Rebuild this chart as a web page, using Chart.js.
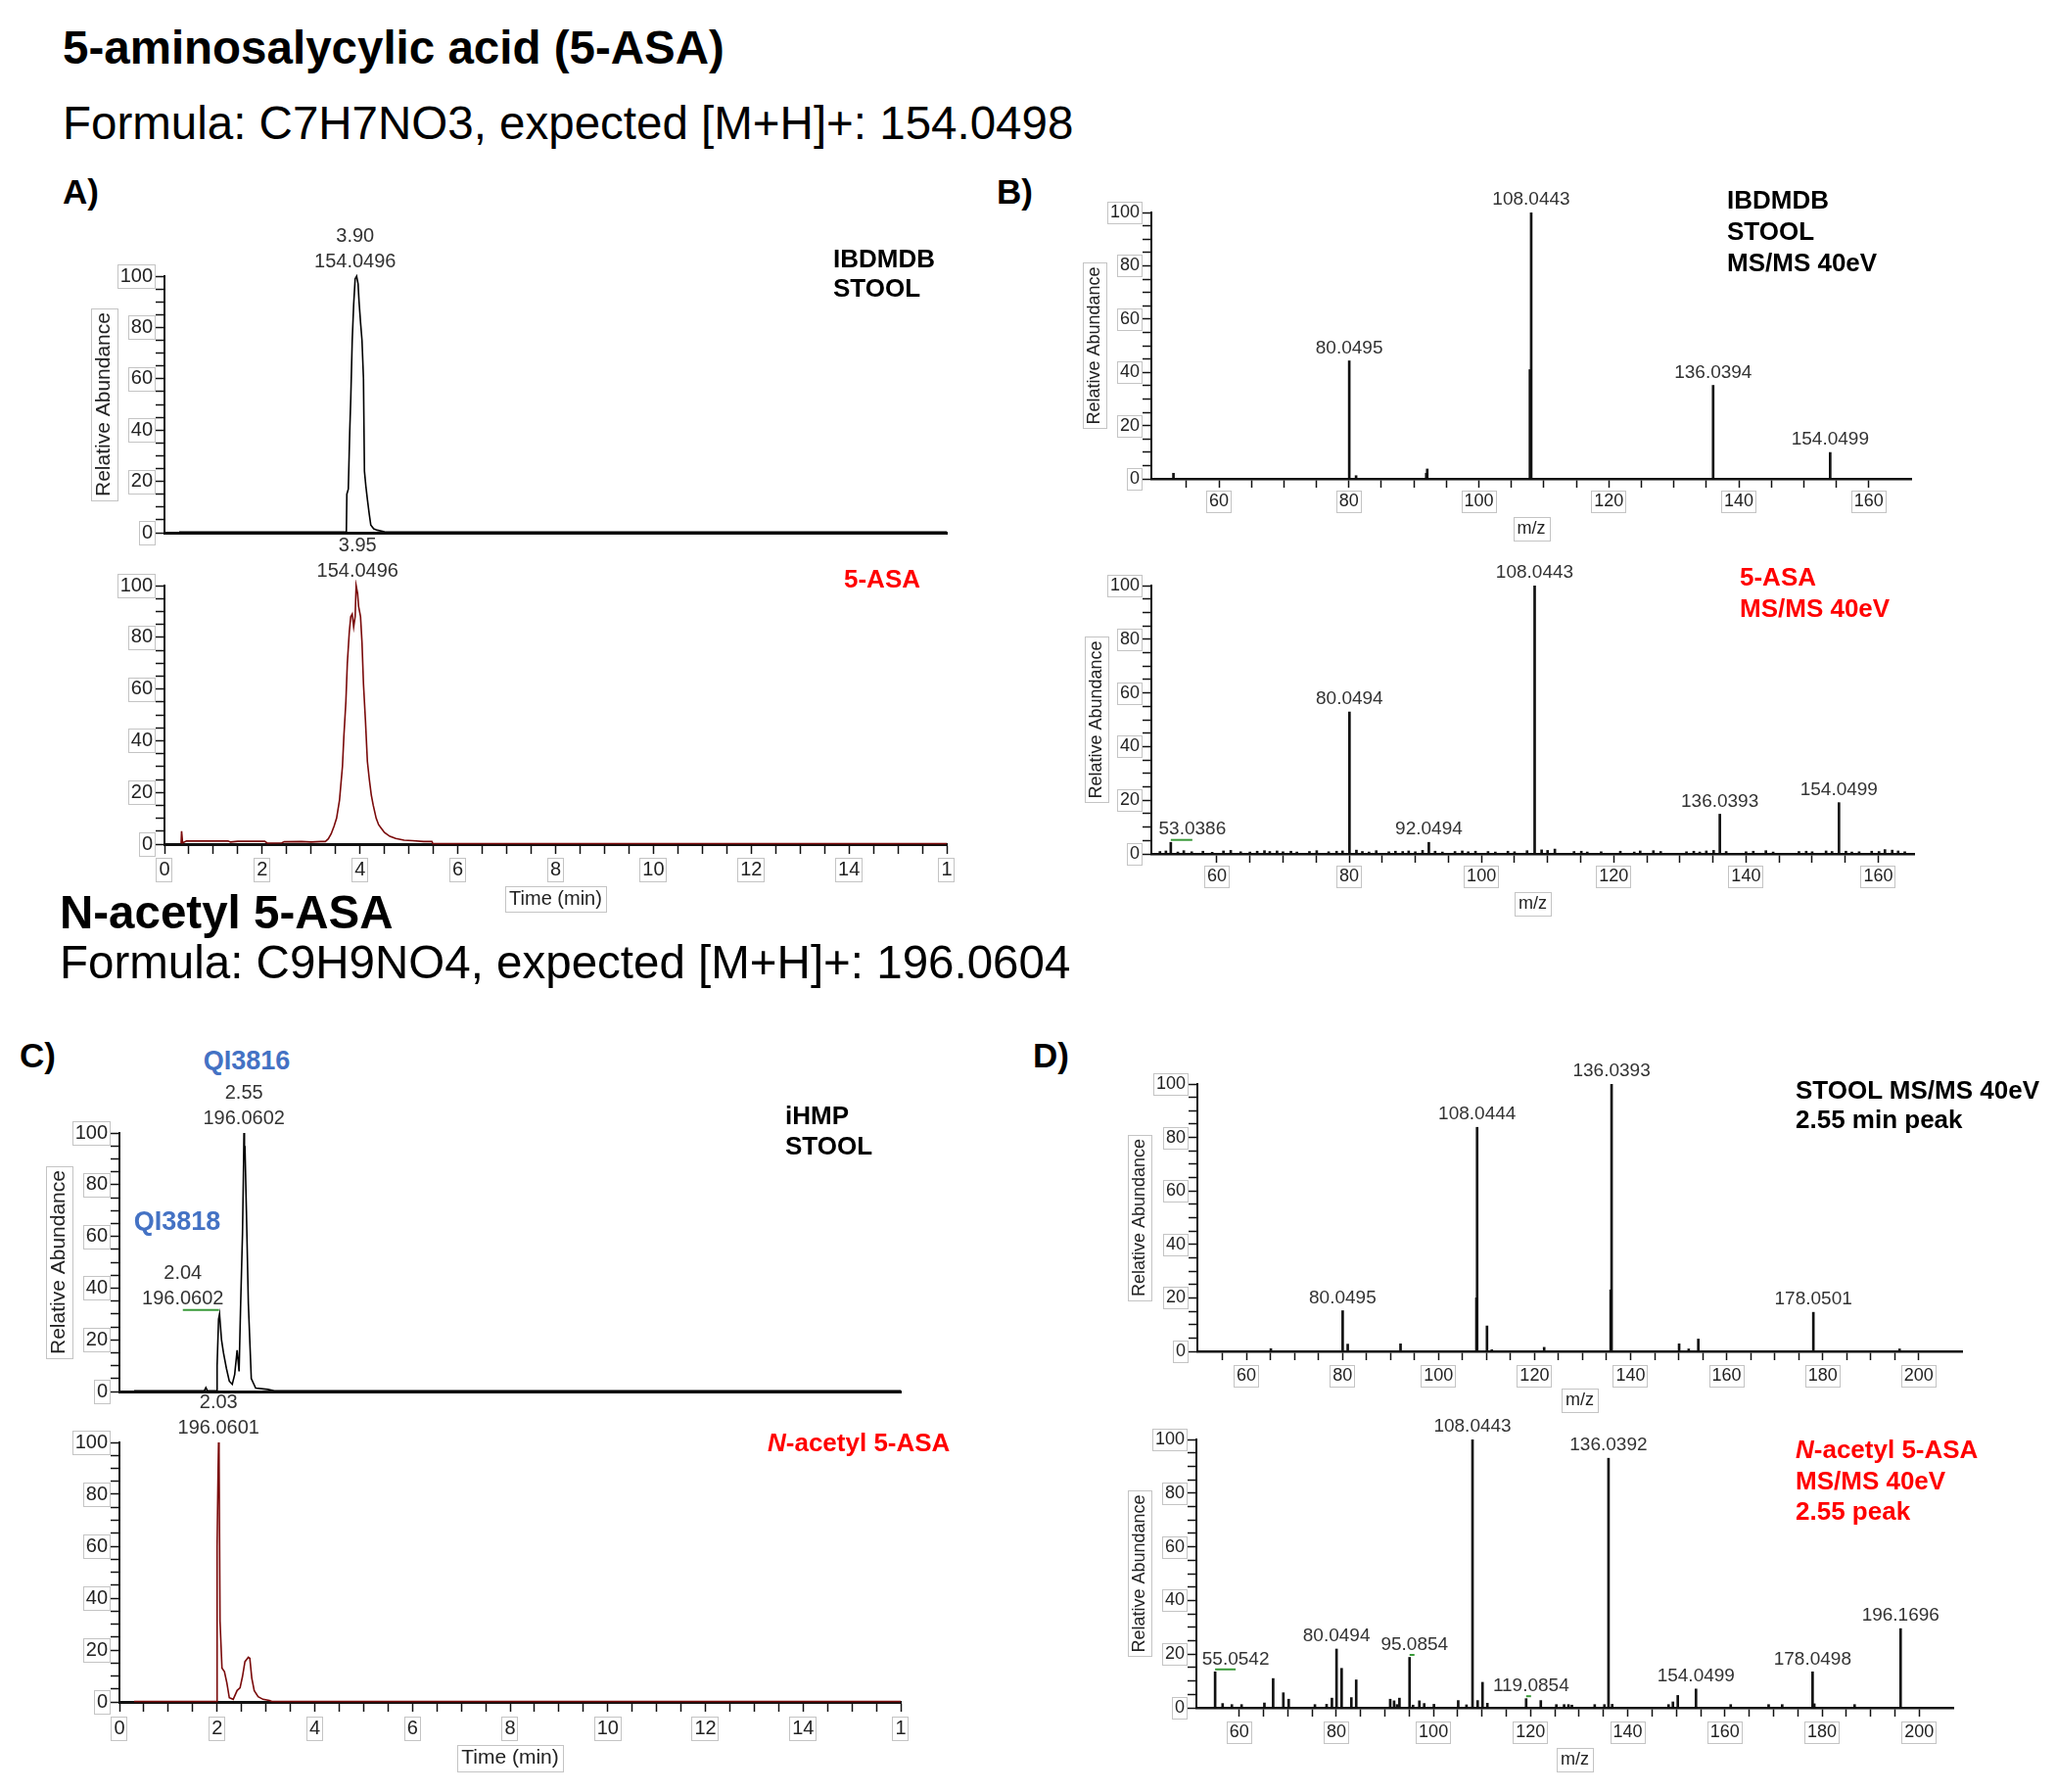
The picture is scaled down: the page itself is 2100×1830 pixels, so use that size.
<!DOCTYPE html>
<html>
<head>
<meta charset="utf-8">
<title>5-ASA and N-acetyl 5-ASA</title>
<script src="https://cdn.jsdelivr.net/npm/chart.js@4.4.1/dist/chart.umd.min.js"></script>
<style>
  html, body { margin: 0; padding: 0; background: #fff; }
  #page { position: relative; width: 2100px; height: 1830px; overflow: hidden; font-family: "Liberation Sans", Arial, sans-serif; }
  #page canvas { position: absolute; }
  .t { position: absolute; white-space: nowrap; line-height: 1; color: #000; }
</style>
</head>
<body>
<div id="page"></div>
<script>
// ---- A) 5-ASA extracted ion chromatograms, m/z 154.0498 ----
const aTopTime  = [0.30, 3.72, 3.73, 3.76, 3.79, 3.81, 3.84, 3.87, 3.90, 3.93, 3.96, 3.98, 4.01, 4.04, 4.07, 4.09, 4.12, 4.15, 4.19, 4.22, 4.28, 4.35, 4.50, 16.0];
const aTopAbund = [0.3, 0.3, 15, 17, 40, 52, 75, 89, 99, 100, 97, 90, 82, 75, 60, 24, 18, 13, 7, 3, 1.5, 1, 0.4, 0.3];
const aTopPeakTime  = [3.90];
const aTopPeakMz    = [154.0496];
const aTopPeakAbund = [100];

const aBotTime  = [0.34, 0.35, 0.37, 0.45, 1.30, 1.35, 1.50, 2.05, 2.10, 2.40, 2.45, 2.80, 3.00, 3.20, 3.29, 3.35, 3.41, 3.47, 3.52, 3.58, 3.64, 3.67, 3.71, 3.74, 3.78, 3.81, 3.84, 3.87, 3.90, 3.92, 3.95, 3.97, 4.01, 4.04, 4.07, 4.11, 4.15, 4.19, 4.23, 4.27, 4.33, 4.38, 4.44, 4.50, 4.61, 4.73, 4.90, 5.07, 5.30, 5.47, 5.49, 16.0];
const aBotAbund = [0.3, 5, 0.5, 1.2, 1.2, 0.8, 1.1, 1.1, 0.4, 0.5, 0.9, 1.0, 0.8, 1.0, 1.0, 2, 4, 7, 10, 17, 30, 42, 55, 70, 82, 88, 89, 84, 88, 100, 97, 92, 88, 78, 62, 48, 32, 25, 19, 15, 10, 7.5, 6, 4.5, 3, 2.2, 1.5, 1.3, 1.0, 1.0, 0.2, 0.2];
const aBotPeakTime  = [3.95];
const aBotPeakMz    = [154.0496];
const aBotPeakAbund = [100];

// ---- B) 5-ASA MS/MS 40 eV ----
const bTopPeakMz    = [80.0495, 108.0443, 136.0394, 154.0499];
const bTopPeakAbund = [44.3, 100, 35.1, 9.9];
const bTopMinorMz    = [53.0, 81.1, 91.9, 92.05, 107.85];
const bTopMinorAbund = [2.1, 1.2, 2.1, 3.7, 41];

const bBotPeakMz    = [53.0386, 80.0494, 92.0494, 108.0443, 136.0393, 154.0499];
const bBotPeakAbund = [4.3, 52.9, 4.3, 100, 14.8, 19.1];
const bBotMinorMz = [
  51.4, 52.3, 54.1, 55.0, 56.2, 57.9, 59.3, 61.0, 62.1, 63.6,
  65.0, 66.1, 67.2, 68.0, 69.1, 70.0, 71.2, 72.1, 74.0, 75.1,
  76.9, 78.1, 79.0, 81.1, 82.0, 83.0, 84.1, 86.0, 87.0, 88.1,
  89.0, 90.0, 91.1, 93.0, 94.1, 96.0, 97.1, 98.0, 99.1, 101.0,
  102.1, 104.0, 105.0, 106.9, 109.1, 110.0, 111.1, 114.0, 115.1, 116.0,
  118.1, 121.0, 123.1, 124.0, 126.0, 127.1, 131.0, 132.1, 133.0, 134.0,
  135.1, 137.0, 140.0, 141.1, 143.0, 144.1, 148.0, 149.1, 150.0, 152.1,
  153.0, 155.1, 156.0, 157.1, 159.0, 160.1, 161.0, 162.1, 163.0, 164.0];
const bBotMinorAbund = [
  0.9, 1.1, 0.7, 1.2, 0.8, 1.0, 0.6, 1.1, 1.3, 0.8,
  0.7, 1.0, 1.2, 0.9, 1.1, 0.8, 1.0, 0.7, 0.9, 1.2,
  0.8, 1.0, 1.1, 1.4, 0.9, 0.7, 1.2, 0.8, 1.0, 0.9,
  1.1, 0.8, 1.3, 1.0, 0.7, 0.9, 1.1, 0.8, 1.0, 0.9,
  0.7, 1.0, 0.8, 1.2, 1.5, 1.3, 1.8, 0.9, 1.0, 0.7,
  0.8, 1.0, 0.7, 1.1, 1.2, 0.9, 0.8, 1.0, 0.7, 1.1,
  1.3, 0.9, 0.8, 1.0, 1.2, 0.7, 0.9, 1.0, 0.8, 1.1,
  0.9, 1.0, 0.7, 0.8, 1.0, 0.9, 1.6, 1.4, 1.1, 0.8];

// ---- C) N-acetyl 5-ASA extracted ion chromatograms, m/z 196.0604 ----
const cTopTime  = [0.30, 1.74, 1.77, 1.80, 1.99, 2.00, 2.03, 2.05, 2.09, 2.13, 2.19, 2.25, 2.31, 2.36, 2.41, 2.45, 2.48, 2.52, 2.54, 2.55, 2.56, 2.57, 2.60, 2.64, 2.70, 2.79, 3.04, 3.17, 16.0];
const cTopAbund = [0.3, 0.3, 1.5, 0.3, 0.3, 10, 28, 30, 20, 15, 9, 4, 2.8, 6.6, 16, 7.8, 32, 61, 85, 100, 90, 95, 70, 34, 5, 1.3, 0.8, 0.3, 0.3];
const cTopPeakTime  = [2.04, 2.55];
const cTopPeakMz    = [196.0602, 196.0602];
const cTopPeakAbund = [30, 100];

const cBotTime  = [0.30, 1.99, 2.00, 2.02, 2.03, 2.04, 2.06, 2.10, 2.15, 2.20, 2.25, 2.33, 2.41, 2.47, 2.52, 2.57, 2.64, 2.67, 2.71, 2.76, 2.84, 2.94, 3.07, 3.12, 16.0];
const cBotAbund = [0.2, 0.2, 60, 89, 100, 96, 31, 13, 11.7, 7.3, 1.6, 1, 4.4, 5.4, 9.8, 15.5, 17.2, 16.8, 9.2, 4.4, 2, 1, 0.6, 0.2, 0.2];
const cBotPeakTime  = [2.03];
const cBotPeakMz    = [196.0601];
const cBotPeakAbund = [100];

// ---- D) N-acetyl 5-ASA MS/MS 40 eV ----
const dTopPeakMz    = [80.0495, 108.0444, 136.0393, 178.0501];
const dTopPeakAbund = [15.2, 83.8, 100, 14.6];
const dTopMinorMz    = [65.1, 81.1, 92.1, 107.9, 110.1, 111.1, 122.0, 135.85, 150.1, 152.1, 154.1, 196.0];
const dTopMinorAbund = [1.0, 2.7, 2.8, 20, 9.5, 0.6, 1.5, 23, 2.8, 0.9, 4.6, 0.9];

const dBotPeakMz    = [55.0542, 80.0494, 95.0854, 108.0443, 119.0854, 136.0392, 154.0499, 178.0498, 196.1696];
const dBotPeakAbund = [13.4, 21.9, 18.8, 100, 3.4, 93, 7.0, 13.4, 29.5];
const dBotMinorMz = [56.6, 58.5, 60.5, 65.2, 67.0, 69.1, 70.2, 75.6, 78.0, 79.1,
  81.1, 83.1, 84.1, 91.1, 91.9, 92.5, 93.0, 95.8, 97.1, 98.1,
  100.1, 105.1, 106.8, 109.1, 110.1, 111.1, 122.1, 125.3, 126.9, 127.8,
  128.5, 133.2, 135.2, 136.8, 148.4, 149.3, 150.3, 161.2, 169.0, 171.8,
  178.4, 186.7];
const dBotMinorAbund = [1.6, 1.2, 1.2, 1.8, 10.9, 5.6, 3.2, 1.2, 1.3, 3.6,
  14.7, 3.8, 10.4, 3.2, 2.6, 1.2, 3.6, 1.0, 2.6, 1.6,
  1.3, 2.7, 1.1, 2.7, 9.5, 1.7, 2.7, 1.2, 1.2, 1.2,
  1.0, 1.2, 1.2, 1.3, 1.2, 2.2, 4.6, 1.2, 1.2, 1.2,
  1.5, 1.2];

// axis ticks
const yTickValues = [0, 20, 40, 60, 80, 100];

const FONT = '"Liberation Sans", Arial, Helvetica, sans-serif';
Chart.defaults.font.family = FONT;
Chart.defaults.color = '#222';

const page = document.getElementById('page');
const onStep = (v, s) => Math.abs(v / s - Math.round(v / s)) < 1e-6;

// peak annotations (retention time / m/z) drawn from the data through the scales
const peakLabelPlugin = {
  id: 'peakLabels',
  afterDatasetsDraw(chart, args, opts) {
    const items = opts.items || [];
    if (!items.length) return;
    const ctx = chart.ctx, xs = chart.scales.x, ys = chart.scales.y;
    ctx.save();
    ctx.font = opts.size + 'px ' + FONT;
    ctx.textAlign = 'center';
    ctx.textBaseline = 'middle';
    items.forEach((it, i) => {
      const px = xs.getPixelForValue(it.x), py = ys.getPixelForValue(it.y);
      const dx = (opts.shift || {})[i] || 0;
      ctx.fillStyle = '#333';
      it.lines.forEach((line, k) => {
        const up = it.lines.length - 1 - k;
        ctx.fillText(line, px + dx, py - opts.gap - up * opts.lineGap);
      });
      if (dx) {
        const ly = py - opts.gap + opts.size / 2 + 1;
        ctx.strokeStyle = '#3a9a3a';
        ctx.lineWidth = 2;
        ctx.beginPath();
        ctx.moveTo(px, ly);
        ctx.lineTo(px + dx, ly);
        ctx.stroke();
      }
    });
    ctx.restore();
  }
};

// thin grey frames round tick labels and axis titles, like the instrument software
const boxPlugin = {
  id: 'labelBoxes',
  afterDraw(chart) {
    const ctx = chart.ctx;
    ctx.save();
    ctx.strokeStyle = '#c4c4c4';
    ctx.lineWidth = 1;
    ['x', 'y'].forEach(id => {
      const sc = chart.scales[id];
      if (sc.options.ticks.display) {
        sc.getLabelItems().forEach(it => {
          if (!it.label) return;
          ctx.font = it.font.string;
          const w = ctx.measureText(it.label).width, h = it.font.size;
          const tx = it.options.translation[0], ty = it.options.translation[1];
          const cy = ty + (it.textOffset || 0);
          const al = it.options.textAlign;
          const x0 = al === 'right' ? tx - w : (al === 'center' ? tx - w / 2 : tx);
          ctx.strokeRect(Math.round(x0 - 3) + 0.5, Math.round(cy - h / 2 - 2) + 0.5, Math.round(w + 5), Math.round(h + 4));
        });
      }
      const t = sc.options.title;
      if (t.display) {
        const size = t.font.size;
        ctx.font = size + 'px ' + FONT;
        const w = ctx.measureText(t.text).width, lh = size * 1.2;
        if (id === 'x') {
          const cx = (sc.left + sc.right) / 2, cy = sc.bottom - lh / 2;
          ctx.strokeRect(Math.round(cx - w / 2 - 4) + 0.5, Math.round(cy - size / 2 - 3) + 0.5, Math.round(w + 8), Math.round(size + 6));
        } else {
          const cx = sc.left + lh / 2, cy = (sc.top + sc.bottom) / 2;
          ctx.strokeRect(Math.round(cx - size / 2 - 3) + 0.5, Math.round(cy - w / 2 - 4) + 0.5, Math.round(size + 6), Math.round(w + 8));
        }
      }
    });
    ctx.restore();
  }
};

function yAxis(p) {
  return {
    min: 0, max: 100,
    border: { display: true, color: '#111', width: 2 },
    grid: { drawOnChartArea: false, drawTicks: true, tickLength: 9, tickWidth: 1.5, tickColor: '#111' },
    ticks: { stepSize: 5, autoSkip: false, padding: 3, font: { size: p.yTick }, color: '#222',
             callback: v => yTickValues.includes(v) ? String(v) : '' },
    title: { display: !!p.yTitle, text: 'Relative Abundance', font: { size: p.yTitle || 18 }, padding: 0, color: '#222' },
    afterFit: s => { s.width = p.yW; }
  };
}

function xAxis(p) {
  const ax = {
    type: 'linear', min: p.xMin, max: p.xMax, offset: false,
    border: { display: true, color: '#111', width: p.xBorder },
    afterFit: s => { s.height = p.xH; }
  };
  if (!p.xTicks) {
    ax.grid = { display: false };
    ax.ticks = { display: false };
    ax.title = { display: false };
    return ax;
  }
  ax.grid = { drawOnChartArea: false, drawTicks: true, offset: false, tickLength: p.tickLen, tickWidth: 1.5,
              tickColor: c => (c.tick && onStep(c.tick.value, p.minorStep)) ? '#111' : 'rgba(0,0,0,0)' };
  ax.ticks = { stepSize: p.minorStep, autoSkip: false, maxRotation: 0, padding: p.tickPad,
               font: { size: p.xTick }, color: '#222',
               callback: v => {
                 if (!onStep(v, p.majorStep)) return '';
                 return p.clipLast && v === p.xMax ? '1' : String(Math.round(v));
               } };
  ax.title = { display: true, text: p.xTitle, font: { size: p.xTitleSize }, padding: 0, color: '#222' };
  return ax;
}

function panel(p, type, datasets, labels) {
  const L = p.area[0], T = p.area[1], R = p.area[2], B = p.area[3];
  const padL = 8, padR = 40, padB = 14, padT = p.padTop;
  const cx = L - p.yW - padL, cy = T - padT;
  const cw = R + padR - cx, ch = B + p.xH + padB - cy;
  const cv = document.createElement('canvas');
  cv.width = cw; cv.height = ch;
  cv.style.left = cx + 'px'; cv.style.top = cy + 'px';
  cv.style.width = cw + 'px'; cv.style.height = ch + 'px';
  page.appendChild(cv);
  new Chart(cv, {
    type: type,
    data: { datasets: datasets },
    plugins: [peakLabelPlugin, boxPlugin],
    options: {
      responsive: false, animation: false, devicePixelRatio: 1,
      layout: { padding: { left: padL, right: padR, top: padT, bottom: padB } },
      plugins: { legend: { display: false }, tooltip: { enabled: false }, peakLabels: labels },
      scales: { x: xAxis(p), y: yAxis(p) }
    }
  });
}

function chrom(p, times, abund, color, pkTime, pkMz, pkAbund, shift) {
  const ds = [{ data: times.map((t, i) => ({ x: t, y: abund[i] })), borderColor: color, borderWidth: 1.6,
                pointRadius: 0, tension: 0, fill: false, clip: 6 }];
  const items = pkTime.map((t, i) => ({ x: t, y: pkAbund[i], lines: [t.toFixed(2), pkMz[i].toFixed(4)] }));
  panel(Object.assign({ xMin: 0, xMax: 16, xBorder: 3, minorStep: 0.5, majorStep: 2, clipLast: true,
                        yTick: 20, xTick: 20, tickLen: 10, xTitle: 'Time (min)' }, p),
        'line', ds, { items: items, size: 20, gap: 15, lineGap: 26, shift: shift });
}

function spec(p, pkMz, pkAbund, mnMz, mnAbund, shift) {
  const ds = [
    { data: pkMz.map((m, i) => ({ x: m, y: pkAbund[i] })), backgroundColor: '#111', borderWidth: 0, barThickness: 2, grouped: false },
    { data: mnMz.map((m, i) => ({ x: m, y: mnAbund[i] })), backgroundColor: '#111', borderWidth: 0, barThickness: 2, grouped: false }
  ];
  const items = pkMz.map((m, i) => ({ x: m, y: pkAbund[i], lines: [m.toFixed(4)] }));
  panel(Object.assign({ xBorder: 2.5, xTicks: true, minorStep: 5, majorStep: 20, clipLast: false,
                        yTick: 18, xTick: 18, tickLen: 9, xTitle: 'm/z', xTitleSize: 18, yTitle: 18, padTop: 34 }, p),
        'bar', ds, { items: items, size: 19, gap: 13, lineGap: 0, shift: shift });
}

// A
chrom({ area: [168, 282, 967, 544], yW: 74, xH: 4, padTop: 64, yTitle: 21, xTicks: false },
      aTopTime, aTopAbund, '#000', aTopPeakTime, aTopPeakMz, aTopPeakAbund, {});
chrom({ area: [168, 598, 967, 862], yW: 60, xH: 68, padTop: 64, xTicks: true, tickPad: 4, xTitleSize: 20 },
      aBotTime, aBotAbund, '#7a0a0a', aBotPeakTime, aBotPeakMz, aBotPeakAbund, {});
// B
spec({ area: [1176, 217, 1952, 489], yW: 69, xH: 62, xMin: 49.6, xMax: 166.5, tickPad: 3 },
     bTopPeakMz, bTopPeakAbund, bTopMinorMz, bTopMinorAbund, {});
spec({ area: [1176, 598, 1955, 872], yW: 67, xH: 62, xMin: 50.1, xMax: 165.4, tickPad: 3 },
     bBotPeakMz, bBotPeakAbund, bBotMinorMz, bBotMinorAbund, { 0: 22 });
// C
chrom({ area: [122, 1157, 920, 1421], yW: 74, xH: 4, padTop: 56, yTitle: 21, xTicks: false },
      cTopTime, cTopAbund, '#000', cTopPeakTime, cTopPeakMz, cTopPeakAbund, { 0: -37 });
chrom({ area: [122, 1473, 920, 1738], yW: 60, xH: 70, padTop: 56, xTicks: true, tickPad: 5, xTitleSize: 21 },
      cBotTime, cBotAbund, '#7a0a0a', cBotPeakTime, cBotPeakMz, cBotPeakAbund, {});
// D
spec({ area: [1223, 1107, 2004, 1380], yW: 70, xH: 61, xMin: 49.8, xMax: 209, tickPad: 5 },
     dTopPeakMz, dTopPeakAbund, dTopMinorMz, dTopMinorAbund, {});
spec({ area: [1222, 1470, 1995, 1744], yW: 69, xH: 64, xMin: 51.2, xMax: 207, tickPad: 5 },
     dBotPeakMz, dBotPeakAbund, dBotMinorMz, dBotMinorAbund, { 0: 21, 2: 5, 4: 5 });

// headings and panel captions
function text(html, x, base, size, o) {
  o = o || {};
  const d = document.createElement('div');
  d.className = 't';
  d.innerHTML = html;
  d.style.fontSize = size + 'px';
  d.style.top = (base - 0.85 * size) + 'px';
  d.style.left = x + 'px';
  if (o.bold) d.style.fontWeight = 'bold';
  if (o.color) d.style.color = o.color;
  if (o.center) d.style.transform = 'translateX(-50%)';
  page.appendChild(d);
}
const RED = '#ff0000', BLUE = '#4472c4';
text('5-aminosalycylic acid (5-ASA)', 64, 65, 47.5, { bold: true });
text('Formula: C7H7NO3, expected [M+H]+: 154.0498', 64, 142, 47.5);
text('A)', 64, 208, 35, { bold: true });
text('B)', 1018, 208, 35, { bold: true });
text('N-acetyl 5-ASA', 61, 948, 47.5, { bold: true });
text('Formula: C9H9NO4, expected [M+H]+: 196.0604', 61, 999, 47.5);
text('C)', 20, 1090, 35, { bold: true });
text('D)', 1055, 1090, 35, { bold: true });

text('IBDMDB', 851, 273, 26, { bold: true });
text('STOOL', 851, 303, 26, { bold: true });
text('5-ASA', 862, 600, 26, { bold: true, color: RED });

text('IBDMDB', 1764, 213, 26, { bold: true });
text('STOOL', 1764, 245, 26, { bold: true });
text('MS/MS 40eV', 1764, 277, 26, { bold: true });
text('5-ASA', 1777, 598, 26, { bold: true, color: RED });
text('MS/MS 40eV', 1777, 630, 26, { bold: true, color: RED });

text('QI3816', 252, 1093, 27, { bold: true, color: BLUE, center: true });
text('QI3818', 181, 1257, 27, { bold: true, color: BLUE, center: true });
text('iHMP', 802, 1148, 26, { bold: true });
text('STOOL', 802, 1179, 26, { bold: true });
text('<i>N</i>-acetyl 5-ASA', 784, 1482, 26, { bold: true, color: RED });

text('STOOL MS/MS 40eV', 1834, 1122, 26, { bold: true });
text('2.55 min peak', 1834, 1152, 26, { bold: true });
text('<i>N</i>-acetyl 5-ASA', 1834, 1489, 26, { bold: true, color: RED });
text('MS/MS 40eV', 1834, 1521, 26, { bold: true, color: RED });
text('2.55 peak', 1834, 1552, 26, { bold: true, color: RED });
</script>
</body>
</html>
